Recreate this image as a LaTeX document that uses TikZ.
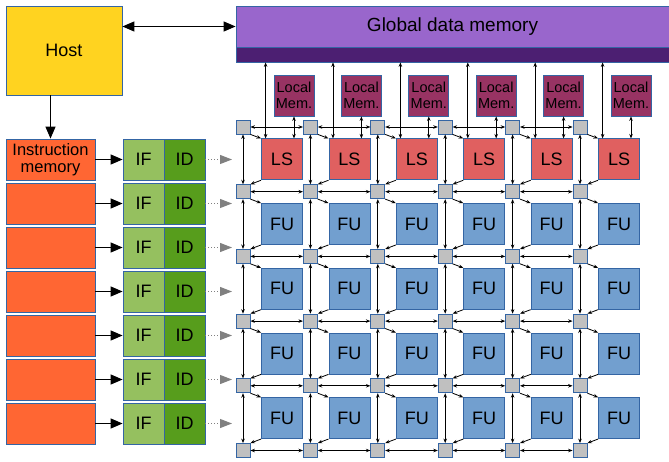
\documentclass[tikz,border=0pt]{standalone}
\usepackage{fontspec}
\setmainfont{Liberation Sans}
\usetikzlibrary{arrows.meta,calc}

\definecolor{edgec}{HTML}{3465A4}
\definecolor{hostc}{HTML}{FFD320}
\definecolor{imemc}{HTML}{FF6633}
\definecolor{ifc}{HTML}{95C05F}
\definecolor{idc}{HTML}{579D1C}
\definecolor{globc}{HTML}{9966CC}
\definecolor{globdark}{HTML}{4C1F72}
\definecolor{lmemc}{HTML}{983363}
\definecolor{lsc}{HTML}{E06060}
\definecolor{fuc}{HTML}{729FCF}
\definecolor{swc}{HTML}{C0C0C0}

\begin{document}
\begin{tikzpicture}[x=1pt,y=-1pt,
  box/.style={draw=edgec, line width=0.8pt, inner sep=0pt, text=black,
    font=\fontsize{18}{20}\selectfont},
  hostbox/.style={box, fill=hostc, minimum width=116pt, minimum height=89pt},
  imembox/.style={box, fill=imemc, minimum width=89pt, minimum height=41pt,
    align=center, font=\fontsize{16.5}{17.5}\selectfont},
  ifbox/.style={box, fill=ifc, minimum width=41pt, minimum height=41pt},
  idbox/.style={box, fill=idc, minimum width=41pt, minimum height=41pt},
  globbox/.style={box, fill=globc, minimum width=433pt, minimum height=41pt,
    font=\fontsize{19}{21}\selectfont},
  globband/.style={box, fill=globdark, minimum width=433pt, minimum height=15pt},
  lmembox/.style={box, fill=lmemc, minimum width=40pt, minimum height=41pt,
    align=center, font=\fontsize{14.5}{16}\selectfont},
  lsbox/.style={box, fill=lsc, minimum width=41pt, minimum height=41pt},
  fubox/.style={box, fill=fuc, minimum width=41pt, minimum height=41pt},
  swbox/.style={box, fill=swc, minimum width=14pt, minimum height=14pt},
  bigarrow/.style={draw=black, line width=1.1pt, -{Triangle[length=12pt,width=10pt]}},
  bigdbl/.style={draw=black, line width=1.1pt,
    {Triangle[length=12pt,width=10pt]}-{Triangle[length=12pt,width=10pt]}},
  issue/.style={draw=gray, line width=1pt, dotted,
    -{Triangle[length=12pt,width=9pt,fill=gray]}},
  link/.style={draw=black, line width=0.8pt,
    {Stealth[length=4.5pt,width=3.5pt]}-{Stealth[length=4.5pt,width=3.5pt]}},
  tap/.style={draw=black, line width=0.8pt, -{Stealth[length=4.5pt,width=3.5pt]}}
]
\useasboundingbox (0,0) rectangle (669,462);

% host and global memory
\node[hostbox] (host) at (64,50.5) {Host};
\node[globbox] (glob) at (452.5,26.5) {Global data memory};
\node[globband] (globb) at (452.5,54.5) {};

% instruction memories with fetch / decode stages
\foreach \r in {0,...,6} {
  \pgfmathsetmacro\ry{159.5+44*\r}
  \ifnum\r=0
    \node[imembox] (im-\r) at (50.5,\ry) {Instruction\\memory};
  \else
    \node[imembox] (im-\r) at (50.5,\ry) {};
  \fi
  \node[ifbox] (if-\r) at (143.5,\ry) {IF};
  \node[idbox] (id-\r) at (184.5,\ry) {ID};
  \coordinate (tip-\r) at (232,\ry);
  \draw[bigarrow] (im-\r) -- (if-\r);
  \draw[issue] (id-\r) -- (tip-\r);
}

\draw[bigarrow] (im-0.north |- host.south) -- (im-0.north);
\draw[bigdbl] (host.east |- glob.west) -- (glob.west);

% switch grid, load/store units, functional units, local memories
\foreach \i in {0,...,5} {
  \pgfmathsetmacro\sx{243+67.4*\i}
  \foreach \j in {0,...,5} {
    \pgfmathsetmacro\sy{127+64.7*\j}
    \node[swbox] (sw-\i-\j) at (\sx,\sy) {};
  }
  \node[lsbox] (pe-\i-0) at (\sx+39,159.35) {LS};
  \foreach \j in {1,...,4} {
    \pgfmathsetmacro\py{159.35+64.7*\j}
    \node[fubox] (pe-\i-\j) at (\sx+39,\py) {FU};
  }
  \node[lmembox] (lm-\i) at (\sx+51,95.5) {Local\\Mem.};
  \coordinate (gl-\i) at ($(pe-\i-0.north west)+(4.5,0)$);
  \draw[link] (gl-\i |- globb.south) -- (gl-\i);
  \draw[link] (lm-\i.south) -- (lm-\i.south |- pe-\i-0.north);
}

% switch-to-switch links
\foreach \i [evaluate=\i as \k using int(\i+1)] in {0,...,4} {
  \foreach \j in {0,...,5} {
    \draw[link] (sw-\i-\j) -- (sw-\k-\j);
  }
}
\foreach \i in {0,...,5} {
  \foreach \j [evaluate=\j as \k using int(\j+1)] in {0,...,4} {
    \draw[link] (sw-\i-\j) -- (sw-\i-\k);
    \draw[tap] (sw-\i-\j.south east) -- (pe-\i-\j.north west);
    \draw[tap] (pe-\i-\j.south west) -- (sw-\i-\k.north east);
  }
}
\end{tikzpicture}
\end{document}
